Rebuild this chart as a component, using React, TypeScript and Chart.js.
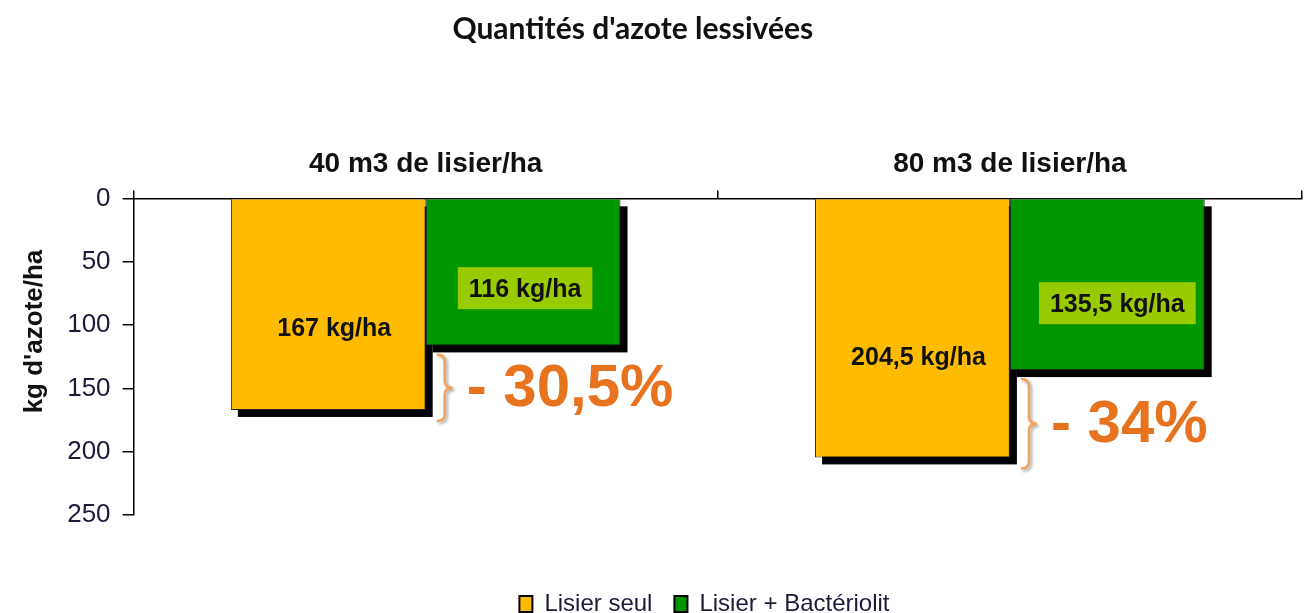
import React, { useEffect, useRef } from 'react';
import { Chart, registerables } from 'chart.js';

Chart.register(...registerables);

// ---- data ----
const categories = ['40 m3 de lisier/ha', '80 m3 de lisier/ha'];
const seriesNames = ['Lisier seul', 'Lisier + Bactériolit'];
const lisierSeul = [167, 204.5];
const lisierBacteriolit = [116, 135.5];
const reductions = ['- 30,5%', '- 34%'];
const yTicks = [0, 50, 100, 150, 200, 250];
const chartTitle = "Quantités d'azote lessivées";
const yTitle = "kg d'azote/ha";

// ---- styles ----
const TEXT = '#1c1c3a';
const DARK = '#111111';
const ORANGE_BAR = '#FFBB00';
const GREEN_BAR = '#009600';
const GREEN_LABEL = '#99CC00';
const PCT = '#E8731E';
const BRACE = '#F5A35A';
const SHADOW = 7;

const fmt = (v: number) => `${String(v).replace('.', ',')} kg/ha`;

const barRect = (bar: any) => {
  const p = bar.getProps(['x', 'y', 'base', 'width'], true);
  const left = p.x - p.width / 2;
  const top = Math.min(p.y, p.base);
  const bottom = Math.max(p.y, p.base);
  return { left, right: left + p.width, top, bottom, x: p.x, width: p.width };
};

const shadowPlugin = {
  id: 'barShadow',
  beforeDatasetsDraw(chart: any) {
    const ctx = chart.ctx;
    ctx.save();
    ctx.fillStyle = '#000';
    chart.data.datasets.forEach((_: any, i: number) => {
      chart.getDatasetMeta(i).data.forEach((bar: any) => {
        const r = barRect(bar);
        ctx.fillRect(r.left + SHADOW, r.top + SHADOW, r.width, r.bottom - r.top);
      });
    });
    ctx.restore();
  },
};

const labelPlugin = {
  id: 'barLabels',
  afterDatasetsDraw(chart: any) {
    const ctx = chart.ctx;
    const yScale = chart.scales.y;
    ctx.save();
    ctx.font = 'bold 25px "Liberation Sans", Arial, sans-serif';
    ctx.textAlign = 'center';
    ctx.textBaseline = 'middle';
    chart.data.datasets.forEach((ds: any, i: number) => {
      chart.getDatasetMeta(i).data.forEach((bar: any, j: number) => {
        const v = ds.data[j];
        const r = barRect(bar);
        const y = yScale.getPixelForValue(v * 0.61);
        const text = fmt(v);
        const w = ctx.measureText(text).width;
        const cx = r.x + (i === 0 ? 6 : 2 + j * 8);
        if (i === 1) {
          ctx.fillStyle = GREEN_LABEL;
          ctx.fillRect(cx - w / 2 - 11, y - 21, w + 22, 42);
        }
        ctx.fillStyle = DARK;
        ctx.fillText(text, cx, y + 2);
      });
    });

    // braces + reduction percentages
    const metaA = chart.getDatasetMeta(0);
    categories.forEach((_, j) => {
      const r = barRect(metaA.data[j]);
      const yTop = yScale.getPixelForValue(lisierBacteriolit[j]) + SHADOW + 2;
      const yBot = yScale.getPixelForValue(lisierSeul[j]) + SHADOW + 4;
      const x0 = r.right + 11;
      const w = 16;
      const mid = (yTop + yBot) / 2;
      const rr = 7;
      ctx.save();
      ctx.strokeStyle = BRACE;
      ctx.lineWidth = 2.5;
      ctx.shadowColor = 'rgba(0,0,0,0.35)';
      ctx.shadowBlur = 3;
      ctx.shadowOffsetX = 2;
      ctx.shadowOffsetY = 2;
      ctx.beginPath();
      ctx.moveTo(x0, yTop);
      ctx.quadraticCurveTo(x0 + w / 2, yTop, x0 + w / 2, yTop + rr);
      ctx.lineTo(x0 + w / 2, mid - rr);
      ctx.quadraticCurveTo(x0 + w / 2, mid, x0 + w, mid);
      ctx.quadraticCurveTo(x0 + w / 2, mid, x0 + w / 2, mid + rr);
      ctx.lineTo(x0 + w / 2, yBot - rr);
      ctx.quadraticCurveTo(x0 + w / 2, yBot, x0, yBot);
      ctx.stroke();
      ctx.restore();

      ctx.save();
      ctx.fillStyle = PCT;
      ctx.font = 'bold 60px "Liberation Sans", Arial, sans-serif';
      ctx.textAlign = 'left';
      ctx.textBaseline = 'middle';
      ctx.fillText(reductions[j], x0 + w + 14, mid + 2);
      ctx.restore();
    });
    ctx.restore();
  },
};

export default function App() {
  const canvasRef = useRef<HTMLCanvasElement | null>(null);

  useEffect(() => {
    document.body.style.margin = '0';
    const canvas = canvasRef.current;
    if (!canvas) return;
    const chart = new Chart(canvas, {
      type: 'bar',
      data: {
        labels: categories,
        datasets: [
          {
            label: seriesNames[0],
            data: lisierSeul,
            backgroundColor: ORANGE_BAR,
            borderColor: '#222',
            borderWidth: 1,
            categoryPercentage: 0.667,
            barPercentage: 1,
          },
          {
            label: seriesNames[1],
            data: lisierBacteriolit,
            backgroundColor: GREEN_BAR,
            borderColor: '#222',
            borderWidth: 1,
            categoryPercentage: 0.667,
            barPercentage: 1,
          },
        ],
      },
      options: {
        animation: false,
        responsive: false,
        devicePixelRatio: 1,
        layout: { padding: { left: 0, right: 4, top: 0, bottom: -13 } },
        plugins: {
          title: {
            display: true,
            text: chartTitle + '\u00a0\u00a0\u00a0\u00a0\u00a0',
            color: DARK,
            font: { family: 'Lato', size: 30, weight: 'bold' },
            padding: { top: 11, bottom: 90 },
          },
          legend: {
            position: 'bottom',
            fullSize: false,
            title: { display: true, text: ' ', font: { size: 10 }, padding: { top: 43, bottom: 0 } },
            labels: {
              color: TEXT,
              font: { family: 'Liberation Sans', size: 24 },
              boxWidth: 13,
              boxHeight: 16,
              padding: 22,
              generateLabels: (c: any) =>
                Chart.defaults.plugins.legend.labels
                  .generateLabels(c)
                  .map((l: any, k: number) => ({
                    ...l,
                    text: k === 1 ? l.text + '\u00a0\u00a0\u00a0\u00a0' : l.text,
                    lineWidth: 2,
                    strokeStyle: '#000',
                  })),
            },
          },
          tooltip: { enabled: false },
        },
        scales: {
          x: {
            position: 'top',
            grid: {
              offset: true,
              drawOnChartArea: false,
              drawTicks: true,
              tickLength: 8,
              color: '#000',
              lineWidth: 1.5,
            },
            border: { color: '#000', width: 1.5 },
            ticks: {
              color: DARK,
              font: { family: 'Liberation Sans', size: 28, weight: 'bold' },
              padding: 10,
            },
          },
          y: {
            reverse: true,
            min: 0,
            max: 250,
            afterBuildTicks: (axis: any) => {
              axis.ticks = yTicks.map((v) => ({ value: v }));
            },
            ticks: {
              color: TEXT,
              font: { family: 'Liberation Sans', size: 26 },
              padding: 12,
            },
            grid: { drawOnChartArea: false, tickLength: 11, color: '#000', lineWidth: 1.5 },
            border: { color: '#000', width: 1.5 },
            title: {
              display: true,
              text: '\u00a0\u00a0\u00a0\u00a0\u00a0\u00a0\u00a0' + yTitle,
              color: DARK,
              font: { family: 'Liberation Sans', size: 26, weight: 'bold' },
              padding: { top: 19, bottom: 5 },
            },
          },
        },
      },
      plugins: [shadowPlugin, labelPlugin],
    } as any);
    return () => chart.destroy();
  }, []);

  return (
    <div style={{ width: 1306, height: 613, background: '#fff' }}>
      <canvas ref={canvasRef} width={1306} height={613} />
    </div>
  );
}
